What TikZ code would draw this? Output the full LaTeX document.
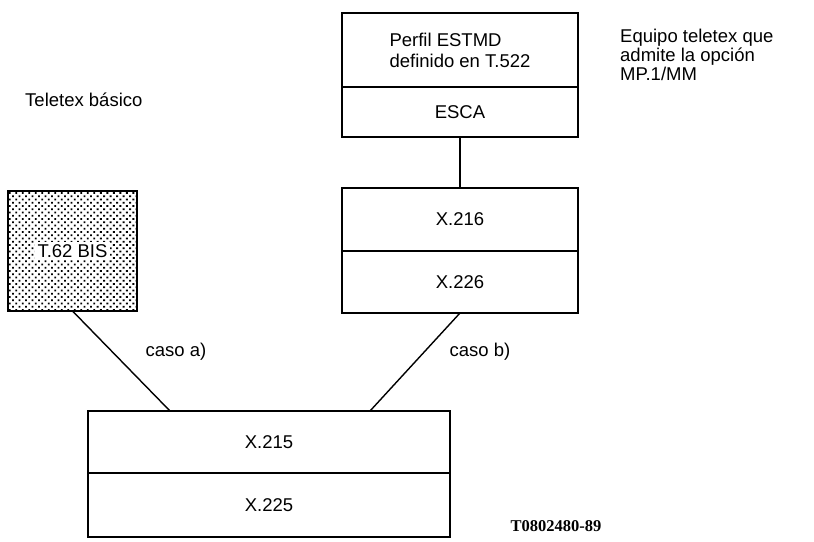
\documentclass[tikz,border=0pt]{standalone}
\usepackage{fontspec}
\setmainfont{Liberation Sans}
\newfontfamily\codefont{Liberation Serif}
\usepackage{tikz}
\usetikzlibrary{
	positioning,
	patterns.meta,
	calc
}

\begin{document}
\begin{tikzpicture}[
				x=1pt, y=-1pt,
				layer/.style={
					rectangle, draw, line width=2pt, outer sep=0pt,
					align=center, font=\fontsize{18.5}{21}\selectfont
				},
				toplayer/.style={
					layer, minimum width=236pt
				},
				lowlayer/.style={
					layer, minimum width=362pt
				},
				dotbox/.style={
					layer, minimum width=129pt, minimum height=120pt,
					pattern={Dots[distance=4.6pt, radius=1.3pt, angle=45]}
				},
				caption/.style={
					align=left, inner sep=0pt, font=\fontsize{18.5}{19}\selectfont
				},
				link/.style={line width=1.4pt, black}
				]
				\useasboundingbox (0,0) rectangle (814,541);
				
				% teletex equipment with MP.1/MM
				\node[toplayer, minimum height=74pt, align=left] (profile) at (460,50) {Perfil ESTMD\\definido en T.522};
				\node[toplayer, minimum height=50pt, below=0pt of profile] (esca) {ESCA};
				
				% session and transport
				\node[toplayer, minimum height=63pt] (x216) at (460,219.5) {X.216};
				\node[toplayer, minimum height=62pt, below=0pt of x216] (x226) {X.226};
				
				% basic teletex
				\node[dotbox] (t62) at (72.5,251) {\setlength{\fboxsep}{2.5pt}\colorbox{white}{T.62 BIS}};
				
				% common lower layers
				\node[lowlayer, minimum height=62pt] (x215) at (269,442) {X.215};
				\node[lowlayer, minimum height=64pt, below=0pt of x215] (x225) {X.225};
				
				% texts
				\node[caption, anchor=west] (basic) at (25,100) {Teletex básico};
				\node[caption, anchor=north west] (equip) at (620,29) {Equipo teletex que\\admite la opción\\MP.1/MM};
				\node[caption] (casea) at (176,352) {caso a)};
				\node[caption] (caseb) at (480,352) {caso b)};
				\node[font=\codefont\bfseries\fontsize{16.5}{18}\selectfont, inner sep=0pt] (code) at (556,526) {T0802480-89};
				
				% links between layers
				\draw[link] (esca) -- (x216);
				\draw[link] (t62.south) -- ([xshift=-99pt]x215.north);
				\draw[link] (x226.south) -- ([xshift=101pt]x215.north);
			\end{tikzpicture}
\end{document}
